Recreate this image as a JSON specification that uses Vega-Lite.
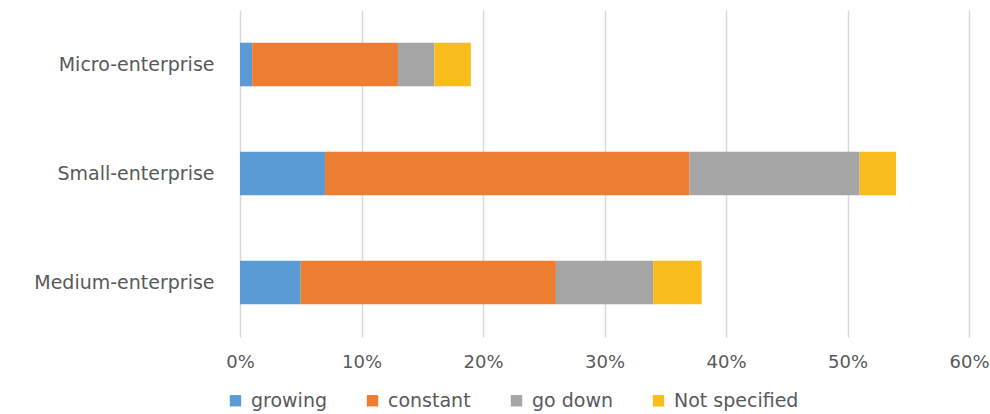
{
  "$schema": "https://vega.github.io/schema/vega-lite/v6.json",
  "width": 729,
  "height": 327,
  "autosize": {"type": "none"},
  "padding": {"left": 240, "top": 10, "right": 21, "bottom": 77},
  "background": "white",
  "config": {
    "view": {"stroke": null},
    "font": "DejaVu Sans"
  },
  "data": {
    "values": [
      {"enterprise": "Micro-enterprise", "category": "growing", "value": 0.01},
      {"enterprise": "Micro-enterprise", "category": "constant", "value": 0.12},
      {"enterprise": "Micro-enterprise", "category": "go down", "value": 0.03},
      {"enterprise": "Micro-enterprise", "category": "Not specified", "value": 0.03},
      {"enterprise": "Small-enterprise", "category": "growing", "value": 0.07},
      {"enterprise": "Small-enterprise", "category": "constant", "value": 0.30},
      {"enterprise": "Small-enterprise", "category": "go down", "value": 0.14},
      {"enterprise": "Small-enterprise", "category": "Not specified", "value": 0.03},
      {"enterprise": "Medium-enterprise", "category": "growing", "value": 0.05},
      {"enterprise": "Medium-enterprise", "category": "constant", "value": 0.21},
      {"enterprise": "Medium-enterprise", "category": "go down", "value": 0.08},
      {"enterprise": "Medium-enterprise", "category": "Not specified", "value": 0.04}
    ]
  },
  "transform": [
    {"calculate": "indexof(['growing','constant','go down','Not specified'], datum.category)", "as": "k"}
  ],
  "mark": {"type": "bar"},
  "encoding": {
    "y": {
      "field": "enterprise",
      "type": "nominal",
      "sort": ["Micro-enterprise", "Small-enterprise", "Medium-enterprise"],
      "scale": {"paddingInner": 0.6, "paddingOuter": 0.3},
      "axis": {
        "title": null,
        "domain": false,
        "ticks": false,
        "labelPadding": 26,
        "labelFontSize": 19,
        "labelLimit": 300,
        "labelColor": "#595959",
        "labelFont": "DejaVu Sans"
      }
    },
    "x": {
      "field": "value",
      "type": "quantitative",
      "stack": "zero",
      "scale": {"domain": [0, 0.6], "nice": false},
      "axis": {
        "title": null,
        "format": ".0%",
        "values": [0, 0.1, 0.2, 0.3, 0.4, 0.5, 0.6],
        "domain": false,
        "ticks": false,
        "grid": true,
        "gridColor": "#D9D9D9",
        "gridWidth": 1.5,
        "labelPadding": 16,
        "labelFontSize": 18,
        "labelColor": "#595959",
        "labelFont": "DejaVu Sans",
        "labelFlush": false
      }
    },
    "color": {
      "field": "category",
      "type": "nominal",
      "sort": ["growing", "constant", "go down", "Not specified"],
      "scale": {
        "domain": ["growing", "constant", "go down", "Not specified"],
        "range": ["#5B9BD5", "#ED7D31", "#A5A5A5", "#F8BD1C"]
      },
      "legend": {
        "title": null,
        "orient": "none",
        "direction": "horizontal",
        "legendX": -14,
        "legendY": 381,
        "padding": 0,
        "symbolType": "square",
        "symbolSize": 130,
        "symbolStrokeWidth": 0,
        "labelFontSize": 19,
        "labelColor": "#595959",
        "labelFont": "DejaVu Sans",
        "labelOffset": 6,
        "columnPadding": 36
      }
    },
    "order": {"field": "k", "type": "quantitative"}
  }
}
